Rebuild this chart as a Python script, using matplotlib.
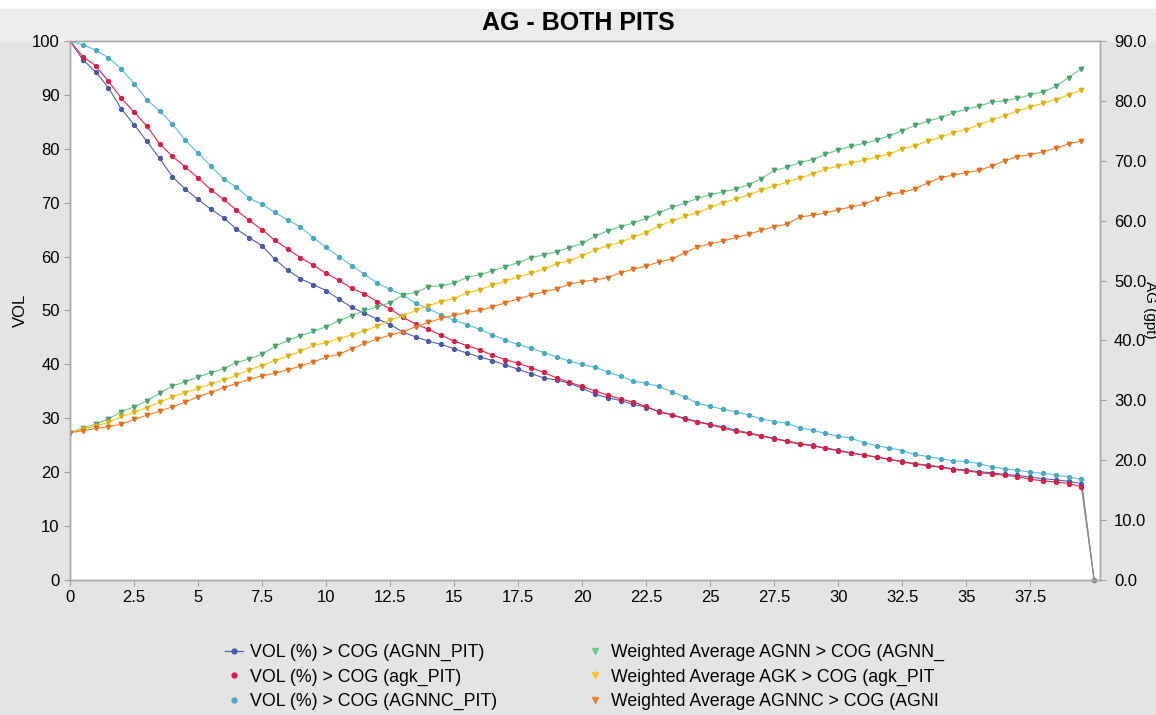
import matplotlib
matplotlib.use("Agg")
import matplotlib.pyplot as plt
from matplotlib.lines import Line2D
from matplotlib.patches import Rectangle
import matplotlib.ticker as mticker

# cut-off grades (x axis), 0 to 39.5 in 0.5 steps, last VOL point at 40
cog = [0, 0.5, 1, 1.5, 2, 2.5, 3, 3.5, 4, 4.5, 5, 5.5, 6, 6.5, 7, 7.5, 8, 8.5, 9, 9.5,
       10, 10.5, 11, 11.5, 12, 12.5, 13, 13.5, 14, 14.5, 15, 15.5, 16, 16.5, 17, 17.5, 18, 18.5, 19, 19.5,
       20, 20.5, 21, 21.5, 22, 22.5, 23, 23.5, 24, 24.5, 25, 25.5, 26, 26.5, 27, 27.5, 28, 28.5, 29, 29.5,
       30, 30.5, 31, 31.5, 32, 32.5, 33, 33.5, 34, 34.5, 35, 35.5, 36, 36.5, 37, 37.5, 38, 38.5, 39, 39.5]
cog_vol = cog + [40]

vol_agnn = [100, 96.5, 94.3, 91.3, 87.4, 84.5, 81.4, 78.2, 74.8, 72.5, 70.6, 68.8, 67.2, 65.1, 63.5, 62.0, 59.5, 57.5, 55.9, 54.8,
            53.7, 52.1, 50.6, 49.5, 48.4, 47.4, 46.0, 45.1, 44.3, 43.7, 42.9, 42.1, 41.4, 40.7, 39.9, 39.1, 38.3, 37.5, 37.1, 36.5,
            35.6, 34.5, 33.8, 33.3, 32.6, 32.0, 31.3, 30.7, 30.0, 29.4, 28.9, 28.4, 27.8, 27.3, 26.8, 26.3, 25.8, 25.3, 25.0, 24.5,
            24.1, 23.6, 23.2, 22.8, 22.4, 22.0, 21.6, 21.3, 21.0, 20.6, 20.4, 20.1, 19.9, 19.6, 19.4, 19.1, 18.8, 18.6, 18.3, 17.9,
            0]
vol_agk = [100, 97.1, 95.4, 92.5, 89.4, 86.8, 84.2, 80.9, 78.6, 76.6, 74.6, 72.4, 70.6, 68.6, 66.7, 65.0, 63.0, 61.4, 59.8, 58.4,
           56.9, 55.6, 54.1, 53.1, 51.6, 50.3, 48.7, 47.5, 46.5, 45.4, 44.3, 43.5, 42.7, 41.7, 40.9, 40.2, 39.4, 38.5, 37.5, 36.7,
           35.9, 35.1, 34.3, 33.6, 33.0, 32.2, 31.2, 30.6, 29.9, 29.3, 28.8, 28.2, 27.6, 27.2, 26.7, 26.2, 25.7, 25.2, 24.9, 24.4,
           24.0, 23.5, 23.2, 22.8, 22.4, 21.9, 21.5, 21.2, 20.9, 20.5, 20.3, 19.9, 19.7, 19.4, 19.2, 18.7, 18.4, 18.2, 17.9, 17.3,
           0]
vol_agnnc = [100, 99.3, 98.3, 96.9, 94.8, 92.1, 89.1, 87.0, 84.6, 81.6, 79.2, 76.8, 74.4, 72.9, 70.8, 69.7, 68.2, 66.8, 65.5, 63.5,
             61.7, 60.0, 58.3, 56.7, 55.1, 53.9, 52.9, 51.3, 50.3, 49.2, 48.2, 47.4, 46.5, 45.5, 44.5, 43.7, 43.0, 42.2, 41.4, 40.6,
             40.0, 39.5, 38.6, 37.8, 36.9, 36.5, 35.9, 34.9, 34.0, 32.8, 32.2, 31.7, 31.2, 30.6, 29.9, 29.4, 29.1, 28.2, 27.8, 27.2,
             26.7, 26.3, 25.5, 24.9, 24.5, 24.0, 23.3, 22.9, 22.5, 22.1, 22.0, 21.6, 21.0, 20.6, 20.4, 20.0, 19.8, 19.5, 19.1, 18.7,
             0]

wavg_agnn = [24.6, 25.4, 26.0, 26.9, 28.1, 28.9, 29.9, 31.2, 32.4, 33.1, 33.9, 34.6, 35.3, 36.3, 36.9, 37.7, 39.0, 40.0, 40.8, 41.5,
             42.3, 43.3, 44.1, 45.0, 45.6, 46.3, 47.6, 48.0, 49.0, 49.1, 49.6, 50.5, 51.0, 51.6, 52.3, 53.0, 53.8, 54.3, 54.8, 55.5,
             56.2, 57.4, 58.3, 59.0, 59.6, 60.4, 61.3, 62.2, 62.9, 63.7, 64.3, 64.8, 65.3, 66.0, 67.0, 68.4, 68.9, 69.7, 70.2, 71.1,
             71.8, 72.4, 72.9, 73.4, 74.2, 75.0, 75.9, 76.6, 77.2, 78.0, 78.6, 79.1, 79.8, 80.0, 80.4, 81.0, 81.5, 82.4, 83.9, 85.4]
wavg_agk = [24.6, 25.2, 25.7, 26.3, 27.3, 28.0, 28.8, 29.7, 30.6, 31.3, 32.0, 32.7, 33.4, 34.2, 35.1, 35.8, 36.6, 37.4, 38.2, 39.2,
            39.6, 40.3, 40.9, 41.6, 42.4, 43.4, 44.1, 45.0, 45.8, 46.5, 47.0, 47.9, 48.5, 49.2, 49.9, 50.6, 51.2, 51.9, 52.8, 53.3,
            54.1, 55.1, 55.8, 56.4, 57.3, 58.0, 59.1, 59.9, 60.7, 61.3, 62.2, 63.0, 63.6, 64.3, 65.1, 65.8, 66.4, 67.1, 67.8, 68.6,
            69.1, 69.6, 70.1, 70.6, 71.1, 72.0, 72.5, 73.3, 73.9, 74.7, 75.2, 76.0, 76.8, 77.5, 78.3, 79.0, 79.6, 80.2, 81.0, 81.8]
wavg_agnnc = [24.6, 24.9, 25.3, 25.6, 26.0, 26.8, 27.5, 28.2, 28.9, 29.7, 30.6, 31.3, 32.1, 32.8, 33.5, 34.1, 34.5, 35.1, 35.7, 36.4,
              37.2, 37.7, 38.6, 39.5, 40.2, 40.9, 41.4, 42.3, 43.0, 43.7, 44.2, 44.7, 45.0, 45.6, 46.3, 46.9, 47.6, 48.1, 48.6, 49.4,
              49.8, 50.1, 50.5, 51.3, 51.9, 52.4, 53.1, 53.6, 54.6, 55.6, 56.1, 56.6, 57.2, 57.7, 58.4, 59.0, 59.4, 60.6, 60.9, 61.3,
              61.8, 62.3, 62.7, 63.6, 64.4, 64.7, 65.3, 66.3, 67.2, 67.6, 68.0, 68.4, 69.1, 70.0, 70.7, 71.0, 71.5, 72.1, 72.8, 73.3]

vol_labels = ["VOL (%) > COG (AGNN_PIT)", "VOL (%) > COG (agk_PIT)", "VOL (%) > COG (AGNNC_PIT)"]
wavg_labels = ["Weighted Average AGNN > COG (AGNN_", "Weighted Average AGK > COG (agk_PIT",
               "Weighted Average AGNNC > COG (AGNI"]

vol_colors = ["#5361ad", "#e8234b", "#5bbde0"]
vol_mcolors = ["#4a58a8", "#d81e45", "#4aa8bf"]
wavg_colors = ["#6cc88c", "#f6c51b", "#f0802a"]
wavg_mcolors = ["#4fa070", "#d8b010", "#e07020"]

plt.rcParams["font.family"] = ["Arial", "Liberation Sans", "DejaVu Sans"]

fig = plt.figure(figsize=(11.56, 7.15), dpi=100, facecolor="#e4e4e4")
# top white strip and title band (behind the axes)
fig.patches.append(Rectangle((0, 0.988), 1, 0.012, transform=fig.transFigure, color="white", zorder=-2))
fig.patches.append(Rectangle((0, 0.943), 1, 0.045, transform=fig.transFigure, color="#ececec", zorder=-2))
fig.text(0.5, 0.968, "AG - BOTH PITS", ha="center", va="center", fontsize=18, fontweight="bold")

ax = fig.add_axes([0.0606, 0.1888, 0.891, 0.7539])
ax.set_facecolor("white")
ax2 = ax.twinx()

series_vol = [vol_agnn, vol_agk, vol_agnnc]
series_wavg = [wavg_agnn, wavg_agk, wavg_agnnc]

for vals, c, mc in zip(series_vol, vol_colors, vol_mcolors):
    ax.plot(cog_vol[:-1], vals[:-1], color=c, lw=0.8, marker="o", ms=2.8, mfc=mc, mec=mc, zorder=3)
    ax.plot(cog_vol[-2:], vals[-2:], color="#8a8a8a", lw=0.8, zorder=2)
ax.plot(cog_vol[-1], vol_agnn[-1], marker="o", ms=3, color="#8a8a8a", clip_on=False, zorder=3)

for vals, c, mc in zip(series_wavg, wavg_colors, wavg_mcolors):
    ax2.plot(cog, vals, color=c, lw=0.8, marker="v", ms=3.2, mfc=mc, mec=mc)

ax.set_xlim(0, 40.23)
ax.set_ylim(0, 100)
ax2.set_ylim(0, 90)
ax.set_xticks([i * 2.5 for i in range(16)])
ax.xaxis.set_major_formatter(mticker.FuncFormatter(lambda v, p: f"{v:g}"))
ax.set_yticks(range(0, 101, 10))
ax2.set_yticks(range(0, 91, 10))
ax2.yaxis.set_major_formatter(mticker.FormatStrFormatter("%.1f"))

for a in (ax, ax2):
    a.tick_params(labelsize=12, length=4, color="#a0a0a0", width=0.8)
    for s in a.spines.values():
        s.set_color("#a8a8a8")
        s.set_linewidth(1.0)
ax.tick_params(axis="x", pad=3)
ax2.tick_params(axis="y", pad=6)

ax.set_ylabel("VOL", fontsize=12, labelpad=3)
fig.text(0.9945, 0.566, "AG (gpt)", rotation=270, ha="center", va="center", fontsize=11)

handles = []
labels = []
for i in range(3):
    handles.append(Line2D([], [], color=vol_colors[i], lw=0.9 if i == 0 else 0, marker="o", ms=3.5,
                          mfc=vol_mcolors[i], mec=vol_mcolors[i]))
    labels.append(vol_labels[i])
for i in range(3):
    handles.append(Line2D([], [], color=wavg_colors[i], lw=0, marker="v", ms=4,
                          mfc=wavg_colors[i], mec=wavg_colors[i]))
    labels.append(wavg_labels[i])

fig.legend(handles, labels, ncol=2, loc="center", bbox_to_anchor=(0.506, 0.053), frameon=False,
           fontsize=12.8, handlelength=1.0, handletextpad=0.4, columnspacing=5.0, labelspacing=0.42)

fig.savefig("out.png", dpi=100, facecolor=fig.get_facecolor())
